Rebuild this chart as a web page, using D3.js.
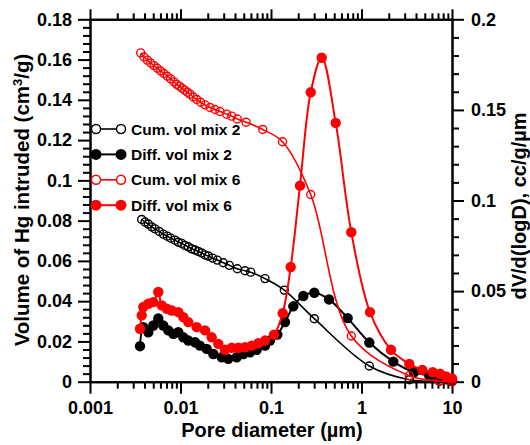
<!DOCTYPE html>
<html><head><meta charset="utf-8">
<script src="https://cdn.jsdelivr.net/npm/d3@7"></script>
<style>
body{margin:0;background:#fff}
text{font-family:"Liberation Sans",Arial,sans-serif;font-weight:bold;fill:#000}
</style>
</head><body>
<svg id="chart" width="530" height="445"></svg>
<script>
// ---------- data ----------
const cum2Dia = [0.003727,0.004053,0.004408,0.004806,0.005226,0.005832,0.006455,0.007146,0.007792,0.008695,0.009456,0.01031,0.01121,0.01220,0.01330,0.01446,0.01573,0.01715,0.01865,0.02029,0.02269,0.02551,0.02972,0.03462,0.04242,0.05161,0.05966,0.08584,0.1403,0.3010,1.220,3.375,7.24,10];
const cum2Vol = [0.0806,0.0793,0.0783,0.0769,0.0759,0.0746,0.0733,0.0723,0.0713,0.0703,0.0693,0.0687,0.0677,0.0670,0.0660,0.0654,0.0647,0.0640,0.0630,0.0624,0.0614,0.0604,0.0591,0.0578,0.0561,0.0551,0.0544,0.0512,0.0455,0.0313,0.0078,0.0010,0.0002,0];

const diff2Dia = [0.003569,0.003882,0.004408,0.005004,0.005683,0.006455,0.007331,0.008326,0.009456,0.01074,0.01220,0.01446,0.01643,0.01948,0.02304,0.02852,0.03375,0.04178,0.04942,0.05861,0.0695,0.08584,0.0975,0.1174,0.1428,0.1764,0.2275,0.3010,0.4375,0.7036,1.220,2.246,3.803,5.613,7.057,8.738,10];
const diff2Val = [0.0196,0.0301,0.0273,0.0310,0.0349,0.0310,0.0283,0.0264,0.0273,0.0245,0.0227,0.0218,0.0199,0.0181,0.0153,0.0135,0.0126,0.0135,0.0153,0.0162,0.0176,0.0199,0.0227,0.0260,0.0329,0.0416,0.0473,0.0491,0.0454,0.0351,0.0216,0.0111,0.0052,0.0033,0.0022,0.0013,0.0006];

const cum6Dia = [0.00363,0.00395,0.00430,0.00469,0.00510,0.00554,0.00604,0.00657,0.00715,0.00779,0.00848,0.00908,0.00970,0.01039,0.01113,0.01189,0.01274,0.01385,0.01510,0.01672,0.01865,0.02118,0.02405,0.02732,0.03240,0.03679,0.04242,0.05294,0.0810,0.1340,0.2747,0.7714,3.375,7.24,10];
const cum6Vol = [0.1633,0.1613,0.1597,0.1583,0.1570,0.1557,0.1543,0.1531,0.1517,0.1504,0.1489,0.1477,0.1468,0.1458,0.1448,0.1438,0.1428,0.1414,0.1402,0.1388,0.1375,0.1362,0.1352,0.1342,0.1329,0.1319,0.1305,0.1289,0.1253,0.1192,0.0930,0.0227,0.0030,0.0003,0];

const diff6Dia = [0.003569,0.003727,0.003882,0.004408,0.005004,0.005683,0.006199,0.007038,0.007992,0.009456,0.01074,0.01220,0.01510,0.01865,0.02212,0.02617,0.03102,0.03679,0.04352,0.05161,0.06118,0.07239,0.08584,0.1079,0.1347,0.1651,0.2091,0.2747,0.3633,0.5187,0.7714,1.241,2.118,3.375,4.697,6.118,7.368,8.584,10];
const diff6Val = [0.0292,0.0366,0.0412,0.0430,0.0439,0.0495,0.0421,0.0403,0.0393,0.0384,0.0356,0.0329,0.0301,0.0283,0.0245,0.0209,0.0176,0.0187,0.0187,0.0190,0.0199,0.0212,0.0227,0.0260,0.0378,0.0633,0.1082,0.1597,0.1788,0.1428,0.0825,0.0384,0.0176,0.0098,0.0065,0.0052,0.0044,0.0029,0.0018];

const seriesNames = ["Cum. vol mix 2","Diff. vol mix 2","Cum. vol mix 6","Diff. vol mix 6"];
const xTicks = [0.001,0.01,0.1,1,10];
const xTickLabels = ["0.001","0.01","0.1","1","10"];
const yLeftTicks = [0,0.02,0.04,0.06,0.08,0.1,0.12,0.14,0.16,0.18];
const yLeftTickLabels = ["0","0.02","0.04","0.06","0.08","0.1","0.12","0.14","0.16","0.18"];
const yRightTicks = [0,0.05,0.1,0.15,0.2];
const yRightTickLabels = ["0","0.05","0.1","0.15","0.2"];
const xTitle = "Pore diameter (µm)";
const yRightTitle = "dV/d(logD), cc/g/µm";

// ---------- layout ----------
const L = 90, R = 452, T = 19.3, B = 381.7;
const svg = d3.select("#chart");
const x = d3.scaleLog().domain([0.001,10]).range([L,R]);
const yL = d3.scaleLinear().domain([0,0.18]).range([B,T]);
const yR = d3.scaleLinear().domain([0,0.2]).range([B,T]);

const xMinor = [];
for (let e=-3;e<1;e++) for (let k=2;k<=9;k++) xMinor.push(k*Math.pow(10,e));
const yLMinor = d3.range(0,0.1801,0.004).filter(v=>Math.abs(v/0.02-Math.round(v/0.02))>1e-6);
const yRMinor = d3.range(0,0.2001,0.01).filter(v=>Math.abs(v/0.05-Math.round(v/0.05))>1e-6);

function styleAxis(g){
  g.selectAll("path.domain").attr("stroke","#000").attr("stroke-width",2);
  g.selectAll(".tick line").attr("stroke","#000").attr("stroke-width",2);
  g.selectAll(".tick text").style("font-size","18px").style("font-family","'Liberation Sans',Arial,sans-serif").style("font-weight","bold").attr("fill","#000");
}
// bottom
svg.append("g").attr("transform",`translate(0,${B})`)
  .call(d3.axisBottom(x).tickValues(xMinor).tickSize(7).tickFormat("").tickSizeOuter(0)).call(styleAxis);
svg.append("g").attr("transform",`translate(0,${B})`)
  .call(d3.axisBottom(x).tickValues(xTicks).tickSize(12).tickPadding(8).tickSizeOuter(0)
    .tickFormat((d,i)=>xTickLabels[i])).call(styleAxis);
// top
svg.append("g").attr("transform",`translate(0,${T})`)
  .call(d3.axisTop(x).tickValues(xMinor).tickSize(6).tickFormat("").tickSizeOuter(0)).call(styleAxis);
svg.append("g").attr("transform",`translate(0,${T})`)
  .call(d3.axisTop(x).tickValues(xTicks).tickSize(10).tickFormat("").tickSizeOuter(0)).call(styleAxis);
// left
svg.append("g").attr("transform",`translate(${L},0)`)
  .call(d3.axisLeft(yL).tickValues(yLMinor).tickSize(7).tickFormat("").tickSizeOuter(0)).call(styleAxis);
svg.append("g").attr("transform",`translate(${L},0)`)
  .call(d3.axisLeft(yL).tickValues(yLeftTicks).tickSize(12).tickPadding(6).tickSizeOuter(0)
    .tickFormat((d,i)=>yLeftTickLabels[i])).call(styleAxis);
// right
svg.append("g").attr("transform",`translate(${R},0)`)
  .call(d3.axisRight(yR).tickValues(yRMinor).tickSize(7).tickFormat("").tickSizeOuter(0)).call(styleAxis);
svg.append("g").attr("transform",`translate(${R},0)`)
  .call(d3.axisRight(yR).tickValues(yRightTicks).tickSize(12).tickPadding(7).tickSizeOuter(0)
    .tickFormat((d,i)=>yRightTickLabels[i])).call(styleAxis);

// titles
svg.append("text").attr("x",272).attr("y",437).attr("text-anchor","middle")
  .style("font-size","20px").text(xTitle);
const yt = svg.append("text").attr("transform","translate(29,200) rotate(-90)").attr("text-anchor","middle")
  .style("font-size","20.5px");
yt.append("tspan").text("Volume of Hg intruded (cm");
yt.append("tspan").attr("baseline-shift","super").style("font-size","13px").text("3");
yt.append("tspan").text("/g)");
svg.append("text").attr("transform","translate(526,206) rotate(-90)").attr("text-anchor","middle")
  .style("font-size","20px").text(yRightTitle);

// ---------- series ----------
const series = [
  {dia:cum2Dia, val:cum2Vol, y:yL, color:"#000", filled:false, r:4, lw:1.6},
  {dia:diff2Dia, val:diff2Val, y:yR, color:"#000", filled:true, r:5.2, lw:2},
  {dia:cum6Dia, val:cum6Vol, y:yL, color:"#f00", filled:false, r:4, lw:1.6},
  {dia:diff6Dia, val:diff6Val, y:yR, color:"#f00", filled:true, r:5.2, lw:2}
];
series.forEach(s=>{
  const pts = s.dia.map((d,i)=>[d,s.val[i]]);
  const line = d3.line().x(p=>x(p[0])).y(p=>s.y(p[1])).curve(d3.curveCatmullRom.alpha(0.5));
  svg.append("path").datum(pts).attr("d",line).attr("fill","none")
    .attr("stroke",s.color).attr("stroke-width",s.lw);
  svg.append("g").selectAll("circle").data(pts).join("circle")
    .attr("cx",p=>x(p[0])).attr("cy",p=>s.y(p[1])).attr("r",s.r)
    .attr("fill",s.filled?s.color:"none").attr("stroke",s.color).attr("stroke-width",s.filled?0:1.4);
});

// ---------- legend ----------
const lg = svg.append("g");
seriesNames.forEach((name,i)=>{
  const s = series[i];
  const yy = 129 + i*25.4;
  lg.append("line").attr("x1",96).attr("x2",121).attr("y1",yy).attr("y2",yy)
    .attr("stroke",s.color).attr("stroke-width",s.lw);
  [96,121].forEach(cx=>{
    lg.append("circle").attr("cx",cx).attr("cy",yy).attr("r",s.filled?5.5:4.5)
      .attr("fill",s.filled?s.color:"#fff").attr("stroke",s.color).attr("stroke-width",s.filled?0:1.5);
  });
  lg.append("text").attr("x",131).attr("y",yy).attr("dy","0.36em")
    .style("font-size","15.5px").text(name);
});
</script>
</body></html>
